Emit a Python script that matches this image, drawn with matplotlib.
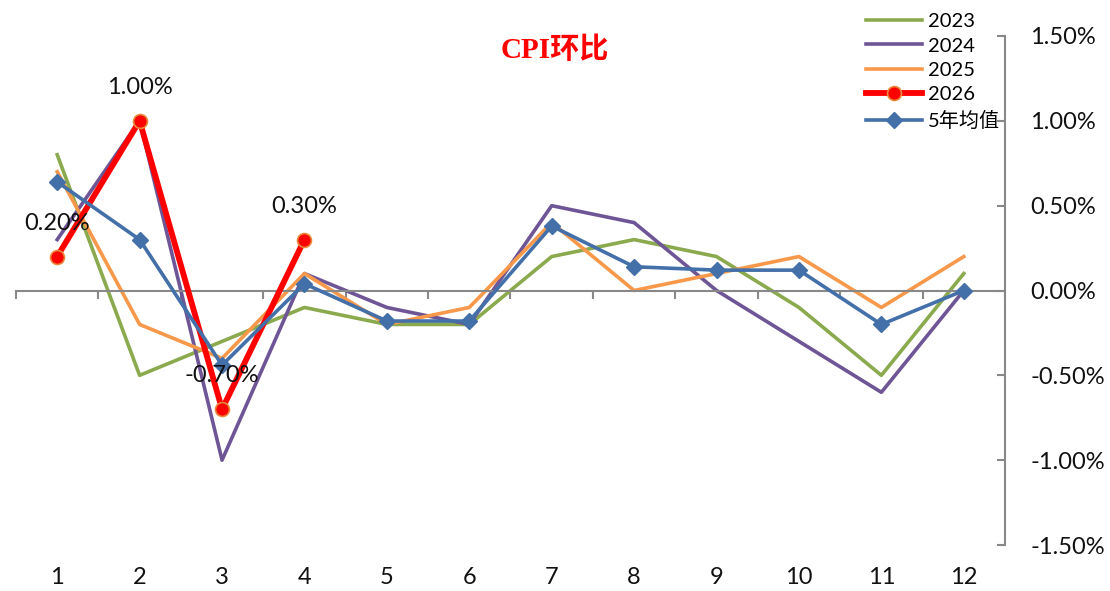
import matplotlib
matplotlib.use("Agg")
import matplotlib.pyplot as plt
from matplotlib.ticker import FuncFormatter

plt.rcParams['font.family'] = ['Lato', 'Noto Sans CJK SC', 'DejaVu Sans']

months = list(range(1, 13))
cpi_2023 = [0.8, -0.5, -0.3, -0.1, -0.2, -0.2, 0.2, 0.3, 0.2, -0.1, -0.5, 0.1]
cpi_2024 = [0.3, 1.0, -1.0, 0.1, -0.1, -0.2, 0.5, 0.4, 0.0, -0.3, -0.6, 0.0]
cpi_2025 = [0.7, -0.2, -0.4, 0.1, -0.2, -0.1, 0.4, 0.0, 0.1, 0.2, -0.1, 0.2]
cpi_2026 = [0.2, 1.0, -0.7, 0.3]
cpi_5yr_avg = [0.64, 0.30, -0.44, 0.04, -0.18, -0.18, 0.38, 0.14, 0.12, 0.12, -0.20, 0.0]
y_ticks = [-1.5, -1.0, -0.5, 0.0, 0.5, 1.0, 1.5]

fig = plt.figure(figsize=(11.1, 5.91), dpi=100)
ax = fig.add_axes([16 / 1110, 1 - 545 / 591, (1005 - 16) / 1110, (545 - 36) / 591])

ax.plot(months, cpi_2023, color='#8BAA4E', lw=2.6, label='2023', zorder=2)
ax.plot(months, cpi_2024, color='#6E5595', lw=2.6, label='2024', zorder=2)
ax.plot(months, cpi_2025, color='#F7984A', lw=2.6, label='2025', zorder=2)
ax.plot(months[:len(cpi_2026)], cpi_2026, color='#FF0000', lw=4.2, marker='o',
        markersize=10, markerfacecolor='#FF0000', markeredgecolor='#E8883A',
        markeredgewidth=1.2, label='2026', zorder=3)
ax.plot(months, cpi_5yr_avg, color='#4470AA', lw=2.6, marker='D', markersize=8,
        markerfacecolor='#4470AA', markeredgecolor='#4470AA', label='5年均值', zorder=4)

for m, v in zip(months, cpi_2026):
    ax.annotate(f'{v:.2f}%', (m, v), xytext=(0, 24), textcoords='offset points',
                ha='center', va='center', fontsize=17, color='#111111', zorder=5)

ax.set_xlim(0.5, 12.5)
ax.set_ylim(-1.5, 1.5)

# right value axis
ax.yaxis.tick_right()
ax.set_yticks(y_ticks)
ax.yaxis.set_major_formatter(FuncFormatter(lambda v, p: f'{v:.2f}%'))
ax.tick_params(axis='y', direction='in', length=6, width=1.5, color='#888888',
               labelsize=17, pad=18, labelcolor='#111111')
for side in ['left', 'top']:
    ax.spines[side].set_visible(False)
ax.spines['right'].set_color('#888888')
ax.spines['right'].set_linewidth(1.5)

# category axis drawn along zero, with boundary ticks
ax.spines['bottom'].set_position(('data', 0))
ax.spines['bottom'].set_color('#888888')
ax.spines['bottom'].set_linewidth(1.5)
ax.set_xticks([m - 0.5 for m in months] + [12.5])
ax.tick_params(axis='x', direction='out', length=6, width=1.5, color='#888888',
               labelbottom=False)

# month labels at the bottom edge
sec = ax.secondary_xaxis(0.0)
sec.set_xticks(months)
sec.set_xticklabels([str(m) for m in months])
sec.tick_params(length=0, labelsize=17, pad=16, labelcolor='#111111')
sec.spines['bottom'].set_visible(False)

fig.text(555 / 1110, 1 - 50 / 591, 'CPI环比', color='#FF0000', fontsize=21,
         fontweight='bold', ha='center', va='center',
         family=['Liberation Serif', 'Noto Sans CJK SC'])

fig.legend(loc='upper left', bbox_to_anchor=(853 / 1110, 1 - 0 / 591),
           frameon=False, fontsize=14.5, handlelength=2.8, handletextpad=0.25,
           labelspacing=0.36, borderpad=0.15)

fig.savefig('out.png', dpi=100, facecolor='white')
